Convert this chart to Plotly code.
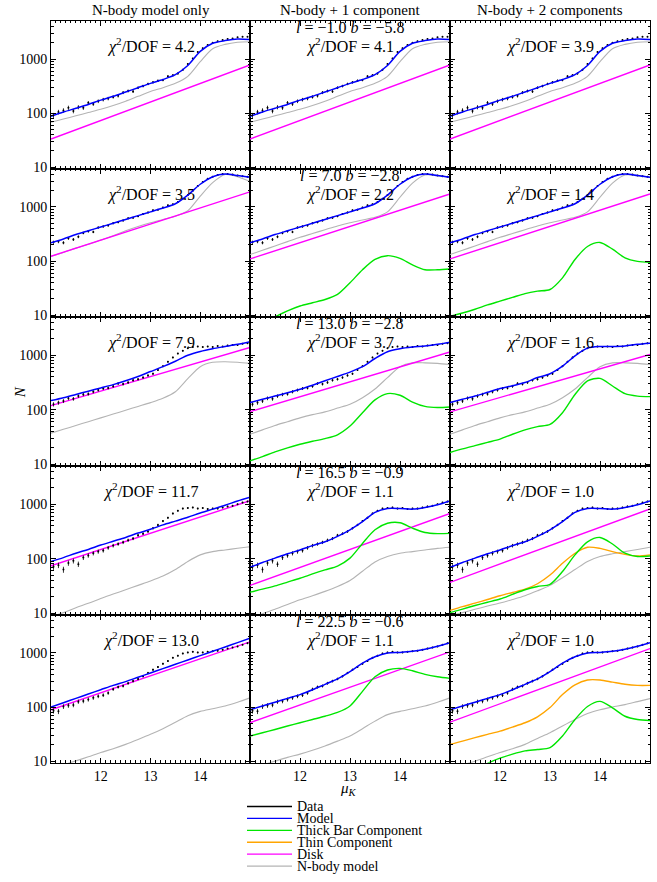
import plotly.graph_objects as go

# ---------------- data (log10 N) ----------------
MU = [11.0, 11.25, 11.5, 11.75, 12.0, 12.25, 12.5, 12.75, 13.0, 13.25, 13.5,
      13.75, 14.0, 14.25, 14.5, 14.75, 15.0]
MU_DISK = [11.0, 15.0]
MU_DATA = [11.05, 11.15, 11.25, 11.35, 11.45, 11.55, 11.65, 11.75, 11.85, 11.95,
           12.05, 12.15, 12.25, 12.35, 12.45, 12.55, 12.65, 12.75, 12.85, 12.95,
           13.05, 13.15, 13.25, 13.35, 13.45, 13.55, 13.65, 13.75, 13.85, 13.95,
           14.05, 14.15, 14.25, 14.35, 14.45, 14.55, 14.65, 14.75, 14.85, 14.95]

data_r1 = [1.96, 2.02, 2.05, 2.10, 2.04, 2.11, 2.10, 2.19, 2.17, 2.22, 2.25, 2.27, 2.30, 2.32,
           2.38, 2.41, 2.40, 2.47, 2.50, 2.54, 2.57, 2.60, 2.61, 2.68, 2.70, 2.73, 2.80, 2.91,
           3.01, 3.13, 3.20, 3.26, 3.30, 3.33, 3.35, 3.37, 3.38, 3.40, 3.41, 3.41]
data_r2 = [2.35, 2.36, 2.34, 2.42, 2.40, 2.45, 2.52, 2.55, 2.54, 2.62, 2.64, 2.66, 2.70, 2.72,
           2.75, 2.79, 2.80, 2.83, 2.87, 2.90, 2.94, 2.95, 2.99, 3.03, 3.05, 3.09, 3.15, 3.22,
           3.30, 3.39, 3.46, 3.52, 3.56, 3.59, 3.61, 3.61, 3.60, 3.58, 3.57, 3.56]
data_r3 = [2.10, 2.13, 2.16, 2.21, 2.20, 2.25, 2.28, 2.29, 2.33, 2.36, 2.39, 2.40, 2.43, 2.48,
           2.47, 2.50, 2.54, 2.56, 2.59, 2.63, 2.66, 2.73, 2.80, 2.88, 2.96, 3.03, 3.08, 3.13,
           3.15, 3.16, 3.15, 3.16, 3.15, 3.17, 3.16, 3.18, 3.19, 3.19, 3.21, 3.22]
data_r4 = [1.85, 1.88, 1.80, 1.92, 1.96, 1.90, 2.02, 2.06, 2.10, 2.13, 2.15, 2.20, 2.24, 2.27,
           2.30, 2.34, 2.37, 2.43, 2.46, 2.50, 2.56, 2.62, 2.69, 2.75, 2.83, 2.88, 2.92, 2.93,
           2.94, 2.92, 2.93, 2.91, 2.92, 2.92, 2.94, 2.96, 2.97, 3.00, 3.03, 3.05]
data_r5 = [1.93, 1.92, 2.01, 2.03, 2.04, 2.10, 2.11, 2.14, 2.17, 2.20, 2.22, 2.26, 2.33, 2.37,
           2.39, 2.44, 2.48, 2.52, 2.57, 2.63, 2.69, 2.74, 2.80, 2.85, 2.91, 2.95, 2.99, 3.01,
           3.02, 3.01, 3.01, 3.02, 3.03, 3.04, 3.06, 3.08, 3.10, 3.12, 3.15, 3.18]

# row 1
model_r1 = [1.94, 2.02, 2.09, 2.16, 2.24, 2.31, 2.39, 2.47, 2.55, 2.62, 2.71, 2.88, 3.14, 3.29, 3.34, 3.37, 3.36]
nbody_r1 = [1.83, 1.89, 1.95, 2.01, 2.07, 2.14, 2.22, 2.31, 2.40, 2.47, 2.55, 2.68, 2.95, 3.19, 3.27, 3.31, 3.32]
disk_r1 = [1.52, 2.89]
# row 2
model_r2 = [2.34, 2.41, 2.49, 2.56, 2.63, 2.70, 2.77, 2.84, 2.91, 2.98, 3.06, 3.22, 3.42, 3.56, 3.61, 3.58, 3.55]
nbody_r2c1 = [2.09, 2.16, 2.24, 2.31, 2.39, 2.47, 2.56, 2.64, 2.71, 2.77, 2.83, 2.93, 3.20, 3.45, 3.60, 3.56, 3.47]
nbody_r2c23 = [2.12, 2.20, 2.28, 2.36, 2.44, 2.51, 2.58, 2.65, 2.71, 2.76, 2.81, 2.91, 3.18, 3.44, 3.59, 3.58, 3.55]
disk_r2c1 = [2.09, 3.28]
disk_r2c23 = [2.04, 3.24]
thick_r2c2 = [0.72, 0.85, 0.97, 1.08, 1.17, 1.23, 1.29, 1.385, 1.60, 1.84, 2.03, 2.10, 2.05, 1.93, 1.84, 1.84, 1.855]
thick_r2c3 = [0.98, 1.04, 1.11, 1.19, 1.26, 1.33, 1.40, 1.445, 1.475, 1.69, 2.03, 2.27, 2.345, 2.22, 2.06, 1.995, 1.98]
# row 3
model_r3c1 = [2.167, 2.22, 2.28, 2.34, 2.40, 2.46, 2.53, 2.61, 2.70, 2.79, 2.89, 3.00, 3.07, 3.12, 3.16, 3.20, 3.25]
model_r3c2 = [2.13, 2.19, 2.25, 2.31, 2.375, 2.45, 2.53, 2.61, 2.69, 2.79, 2.94, 3.065, 3.12, 3.15, 3.17, 3.20, 3.24]
model_r3c3 = [2.13, 2.19, 2.25, 2.32, 2.39, 2.44, 2.50, 2.59, 2.66, 2.80, 2.99, 3.13, 3.16, 3.16, 3.17, 3.20, 3.22]
nbody_r3c1 = [1.57, 1.64, 1.71, 1.78, 1.85, 1.92, 1.99, 2.06, 2.13, 2.21, 2.33, 2.57, 2.79, 2.87, 2.88, 2.87, 2.85]
nbody_r3c23 = [1.55, 1.63, 1.71, 1.78, 1.85, 1.91, 1.96, 2.03, 2.10, 2.22, 2.38, 2.59, 2.79, 2.86, 2.86, 2.85, 2.83]
disk_r3c1 = [2.075, 3.143]
disk_r3c2 = [1.965, 3.06]
disk_r3c3 = [1.96, 3.015]
thick_r3c2 = [1.06, 1.14, 1.225, 1.30, 1.365, 1.42, 1.47, 1.54, 1.70, 1.945, 2.18, 2.295, 2.265, 2.14, 2.06, 2.04, 2.05]
thick_r3c3 = [1.215, 1.28, 1.34, 1.40, 1.46, 1.55, 1.63, 1.69, 1.73, 1.945, 2.28, 2.53, 2.575, 2.435, 2.295, 2.25, 2.24]
# row 4
model_r4c1 = [1.95, 2.02, 2.10, 2.17, 2.25, 2.32, 2.39, 2.47, 2.54, 2.62, 2.69, 2.76, 2.84, 2.91, 2.98, 3.06, 3.13]
model_r4c23 = [1.84, 1.93, 2.01, 2.09, 2.16, 2.24, 2.31, 2.41, 2.53, 2.68, 2.85, 2.92, 2.92, 2.91, 2.94, 2.99, 3.06]
nbody_r4c1 = [0.93, 1.01, 1.10, 1.18, 1.27, 1.35, 1.43, 1.51, 1.59, 1.68, 1.80, 1.95, 2.07, 2.13, 2.16, 2.19, 2.22]
nbody_r4c2 = [0.90, 0.99, 1.07, 1.16, 1.245, 1.32, 1.40, 1.49, 1.60, 1.77, 1.94, 2.04, 2.10, 2.13, 2.16, 2.19, 2.21]
nbody_r4c3 = [0.95, 1.01, 1.07, 1.13, 1.185, 1.25, 1.32, 1.41, 1.51, 1.65, 1.80, 1.95, 2.04, 2.09, 2.13, 2.17, 2.21]
disk_r4c1 = [1.87, 3.064]
disk_r4c2 = [1.51, 2.83]
disk_r4c3 = [1.565, 2.912]
thick_r4c2 = [1.385, 1.44, 1.50, 1.57, 1.64, 1.72, 1.795, 1.865, 2.01, 2.28, 2.53, 2.65, 2.66, 2.56, 2.48, 2.46, 2.465]
thick_r4c3 = [1.01, 1.075, 1.14, 1.20, 1.26, 1.345, 1.43, 1.49, 1.53, 1.765, 2.07, 2.31, 2.39, 2.27, 2.10, 2.04, 2.05]
thin_r4c3 = [1.05, 1.12, 1.183, 1.25, 1.32, 1.38, 1.44, 1.54, 1.70, 1.915, 2.10, 2.21, 2.19, 2.13, 2.08, 2.05, 2.07]
# row 5
model_r5c1 = [2.00, 2.08, 2.16, 2.24, 2.32, 2.40, 2.47, 2.55, 2.63, 2.71, 2.79, 2.87, 2.95, 3.03, 3.11, 3.19, 3.27]
model_r5c23 = [1.95, 2.02, 2.09, 2.16, 2.23, 2.32, 2.42, 2.52, 2.655, 2.81, 2.93, 3.00, 3.01, 3.03, 3.07, 3.125, 3.19]
nbody_r5c1 = [0.85, 0.93, 1.005, 1.08, 1.16, 1.23, 1.31, 1.40, 1.495, 1.60, 1.72, 1.84, 1.92, 1.97, 2.02, 2.09, 2.17]
nbody_r5c2 = [0.86, 0.93, 1.00, 1.07, 1.13, 1.20, 1.28, 1.37, 1.465, 1.60, 1.74, 1.86, 1.92, 1.97, 2.02, 2.09, 2.17]
nbody_r5c3 = [0.85, 0.93, 1.00, 1.08, 1.16, 1.23, 1.31, 1.42, 1.525, 1.65, 1.77, 1.88, 1.95, 2.00, 2.045, 2.10, 2.155]
disk_r5c1 = [1.95, 3.205]
disk_r5c2 = [1.71, 3.02]
disk_r5c3 = [1.72, 3.08]
thick_r5c2 = [1.463, 1.525, 1.585, 1.65, 1.71, 1.77, 1.83, 1.90, 2.02, 2.29, 2.56, 2.685, 2.715, 2.67, 2.605, 2.56, 2.53]
thick_r5c3 = [0.62, 0.74, 0.85, 0.96, 1.055, 1.13, 1.19, 1.215, 1.25, 1.465, 1.77, 2.01, 2.105, 1.985, 1.83, 1.77, 1.75]
thin_r5c3 = [1.31, 1.37, 1.435, 1.495, 1.555, 1.63, 1.71, 1.82, 1.99, 2.23, 2.41, 2.50, 2.50, 2.46, 2.42, 2.40, 2.40]

chi_values = [["4.2", "4.1", "3.9"], ["3.5", "2.2", "1.4"], ["7.9", "3.7", "1.6"],
              ["11.7", "1.1", "1.0"], ["13.0", "1.1", "1.0"]]
field_l = ["−1.0", "7.0", "13.0", "16.5", "22.5"]
field_b = ["−5.8", "−2.8", "−2.8", "−0.9", "−0.6"]
col_titles = ["N-body model only", "N-body + 1 component", "N-body + 2 components"]
legend_names = ["Data", "Model", "Thick Bar Component", "Thin Component", "Disk", "N-body model"]

data_rows = [data_r1, data_r2, data_r3, data_r4, data_r5]
# panel table: (model, nbody, disk, thick, thin)
panels = [
    [(model_r1, nbody_r1, disk_r1, None, None), (model_r1, nbody_r1, disk_r1, None, None),
     (model_r1, nbody_r1, disk_r1, None, None)],
    [(model_r2, nbody_r2c1, disk_r2c1, None, None), (model_r2, nbody_r2c23, disk_r2c23, thick_r2c2, None),
     (model_r2, nbody_r2c23, disk_r2c23, thick_r2c3, None)],
    [(model_r3c1, nbody_r3c1, disk_r3c1, None, None), (model_r3c2, nbody_r3c23, disk_r3c2, thick_r3c2, None),
     (model_r3c3, nbody_r3c23, disk_r3c3, thick_r3c3, None)],
    [(model_r4c1, nbody_r4c1, disk_r4c1, None, None), (model_r4c23, nbody_r4c2, disk_r4c2, thick_r4c2, None),
     (model_r4c23, nbody_r4c3, disk_r4c3, thick_r4c3, thin_r4c3)],
    [(model_r5c1, nbody_r5c1, disk_r5c1, None, None), (model_r5c23, nbody_r5c2, disk_r5c2, thick_r5c2, None),
     (model_r5c23, nbody_r5c3, disk_r5c3, thick_r5c3, thin_r5c3)],
]

# ---------------- styling / layout ----------------
W, H = 657, 882
FONT = "Liberation Serif, Times New Roman, DejaVu Serif, serif"
COL_X = [(51, 250), (250, 450), (450, 650)]
ROW_Y = [(21, 170), (170, 319), (319, 469), (469, 619), (619, 768)]
C_DATA, C_MODEL, C_THICK, C_THIN, C_DISK, C_NBODY = "black", "#0000ff", "#00e600", "#ffa500", "#ff00ff", "#b4b4b4"


def lin(vals):
    return [10 ** v for v in vals]


fig = go.Figure()
layout = dict(width=W, height=H, margin=dict(l=0, r=0, t=0, b=0),
              paper_bgcolor="white", plot_bgcolor="white", showlegend=False,
              font=dict(family=FONT, color="black"))
annotations = []

for r in range(5):
    for c in range(3):
        k = r * 3 + c + 1
        xs = "x" if k == 1 else f"x{k}"
        ys = "y" if k == 1 else f"y{k}"
        model, nbody, disk, thick, thin = panels[r][c]
        common = dict(xaxis=xs, yaxis=ys, hoverinfo="skip")
        fig.add_trace(go.Scatter(x=MU, y=lin(nbody), mode="lines",
                                 line=dict(color=C_NBODY, width=1.1, shape="spline", smoothing=0.8), **common))
        fig.add_trace(go.Scatter(x=MU_DISK, y=lin(disk), mode="lines", line=dict(color=C_DISK, width=1.4), **common))
        if thin is not None:
            fig.add_trace(go.Scatter(x=MU, y=lin(thin), mode="lines",
                                     line=dict(color=C_THIN, width=1.4, shape="spline", smoothing=0.8), **common))
        if thick is not None:
            fig.add_trace(go.Scatter(x=MU, y=lin(thick), mode="lines",
                                     line=dict(color=C_THICK, width=1.4, shape="spline", smoothing=0.8), **common))
        fig.add_trace(go.Scatter(x=MU_DATA, y=lin(data_rows[r]), mode="markers",
                                 marker=dict(color=C_DATA, size=2),
                                 error_y=dict(type="sqrt", color=C_DATA, thickness=0.8, width=0), **common))
        fig.add_trace(go.Scatter(x=MU, y=lin(model), mode="lines",
                                 line=dict(color=C_MODEL, width=1.5, shape="spline", smoothing=0.8), **common))

        x0, x1 = COL_X[c]
        y0, y1 = ROW_Y[r]
        xa = dict(domain=[x0 / W, x1 / W], anchor=ys, range=[11.0, 15.0],
                  showline=True, linecolor="black", linewidth=1, mirror="ticks",
                  ticks="inside", ticklen=5, tickcolor="black", tickvals=[12, 13, 14],
                  showgrid=False, zeroline=False, showticklabels=(r == 4),
                  tickfont=dict(family=FONT, size=14, color="black"),
                  minor=dict(ticks="inside", ticklen=2.5, tickcolor="black", dtick=0.1, tick0=11, showgrid=False))
        ya = dict(domain=[1 - y1 / H, 1 - y0 / H], anchor=xs, type="log", range=[0.97, 3.705],
                  showline=True, linecolor="black", linewidth=1, mirror="ticks",
                  ticks="inside", ticklen=5, tickcolor="black",
                  tickvals=[10, 100, 1000], ticktext=["10", "100", "1000"],
                  showgrid=False, zeroline=False, showticklabels=(c == 0),
                  tickfont=dict(family=FONT, size=14, color="black"),
                  minor=dict(ticks="inside", ticklen=2.5, tickcolor="black", dtick="D1", showgrid=False))
        layout["xaxis" if k == 1 else f"xaxis{k}"] = xa
        layout["yaxis" if k == 1 else f"yaxis{k}"] = ya

        ph = y1 - y0
        annotations.append(dict(xref=f"{xs} domain", yref=f"{ys} domain", x=0.5, y=1 - 25 / ph,
                                text=f"<i>χ</i><sup>2</sup>/DOF = {chi_values[r][c]}", showarrow=False,
                                xanchor="center", yanchor="middle", font=dict(family=FONT, size=16)))
        if c == 1:
            annotations.append(dict(xref=f"{xs} domain", yref=f"{ys} domain", x=0.5, y=1 - 7 / ph,
                                    text=f"<i>l</i> = {field_l[r]} <i>b</i> = {field_b[r]}", showarrow=False,
                                    xanchor="center", yanchor="middle", font=dict(family=FONT, size=16)))

for c in range(3):
    x0, x1 = COL_X[c]
    annotations.append(dict(xref="paper", yref="paper", x=(x0 + x1) / 2 / W, y=1 - 10 / H,
                            text=col_titles[c], showarrow=False, xanchor="center", yanchor="middle",
                            font=dict(family=FONT, size=15)))

annotations.append(dict(xref="paper", yref="paper", x=20 / W, y=1 - 395 / H, text="<i>N</i>",
                        textangle=-90, showarrow=False, xanchor="center", yanchor="middle",
                        font=dict(family=FONT, size=15)))
annotations.append(dict(xref="paper", yref="paper", x=348 / W, y=1 - 794 / H, text="<i>μ<sub>K</sub></i>",
                        showarrow=False, xanchor="center", yanchor="middle",
                        font=dict(family=FONT, size=15)))

# legend (key lines + labels)
shapes = []
leg_colors = [C_DATA, C_MODEL, C_THICK, C_THIN, C_DISK, C_NBODY]
for i, (name, col) in enumerate(zip(legend_names, leg_colors)):
    yy = 1 - (812 + 12 * i) / H
    shapes.append(dict(type="line", xref="paper", yref="paper", x0=247 / W, x1=292 / W, y0=yy, y1=yy,
                       line=dict(color=col, width=1.3)))
    annotations.append(dict(xref="paper", yref="paper", x=295 / W, y=yy, text=name, showarrow=False,
                            xanchor="left", yanchor="middle", font=dict(family=FONT, size=14)))

layout["annotations"] = annotations
layout["shapes"] = shapes
fig.update_layout(**layout)
fig.write_html("out.html")
